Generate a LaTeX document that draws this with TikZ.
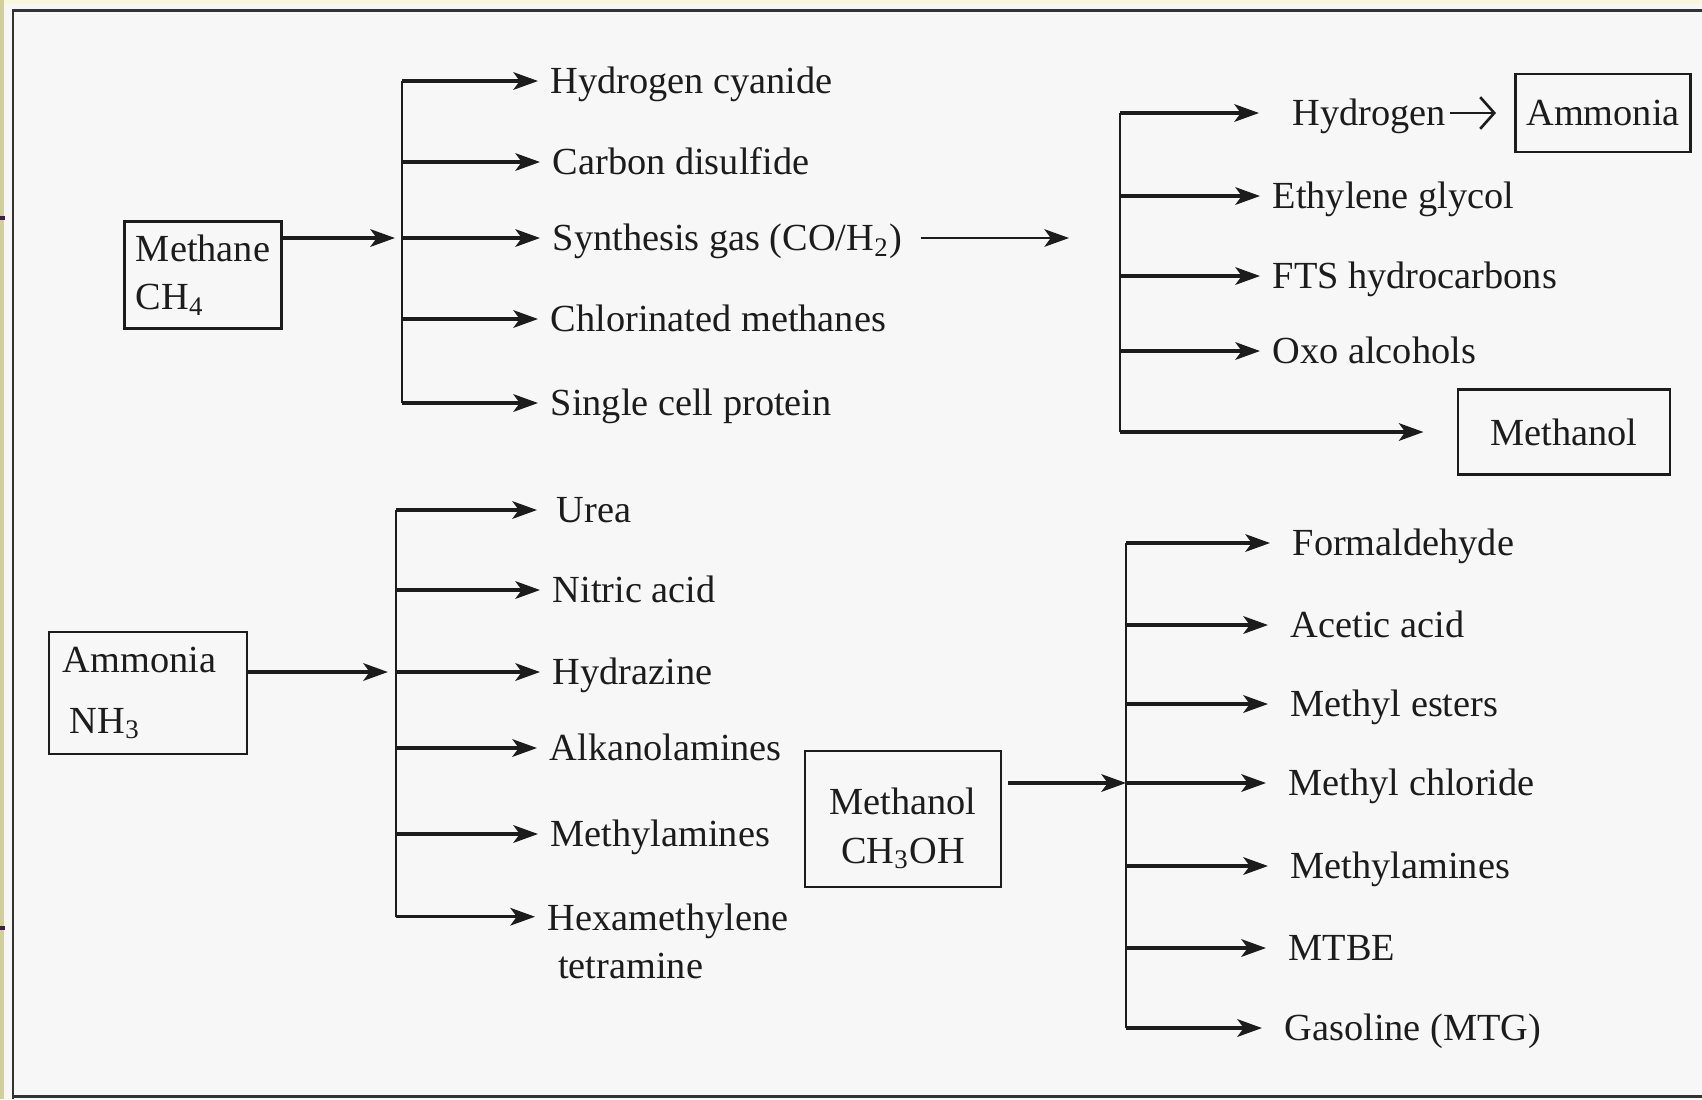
\documentclass[tikz,border=0pt]{standalone}
\usepackage{fontspec}
\setmainfont{Liberation Serif}
\usepackage{tikz}
\usepackage{xcolor}
\usetikzlibrary{arrows.meta}

\definecolor{slidebg}{HTML}{F9F8DC}
\definecolor{slideedge}{HTML}{D2CF9E}
\definecolor{paper}{HTML}{F7F7F7}
\definecolor{ink}{HTML}{1C1C1C}
\definecolor{framec}{HTML}{333333}
\definecolor{tickc}{HTML}{3B1F45}

\begin{document}
\begin{tikzpicture}[x=0.01cm, y=-0.01cm,
  every node/.style={font=\fontsize{10.9}{13.8}\selectfont, text=ink},
  prod/.style={anchor=west, inner sep=0pt, text height=7.2pt, text depth=0pt},
  chem/.style={draw=ink, line width=0.8pt, inner sep=2pt},
  branch/.style={draw=ink, line width=0.9pt, -{Stealth[length=7pt,width=5pt,inset=1.8pt]}, shorten >=0.12cm},
  trunk/.style={draw=ink, line width=0.6pt},
  barb/.style={draw=ink, line width=0.75pt, -{Straight Barb[length=4pt,width=9pt]}, shorten <=1pt, shorten >=0.18cm},
  frame/.style={draw=framec, line width=0.85pt}]
\useasboundingbox (0,0) rectangle (1702,1099);
\fill[slidebg] (0,0) rectangle (1702,1099);
\fill[slideedge] (0,0) rectangle (4,1099);
\fill[paper] (4,4) rectangle (1702,1099);
\fill[tickc] (0,216) rectangle (5,220);
\fill[tickc] (0,926) rectangle (5,930);
\draw[frame] (1702,10) -- (13,10) -- (13,1099);
\draw[frame] (13,1096) -- (1702,1096);

\node[chem, minimum width=1.57cm, minimum height=1.07cm, align=left] (ch4) at (203,275) {Methane\\CH\textsubscript{4}};
\coordinate (ta) at (402,0);
\node[prod] (hcn) at (550,81) {Hydrogen cyanide};
\node[prod] (cs2) at (552,162) {Carbon disulfide};
\node[prod] (syn) at (552,238) {Synthesis gas (CO/H\textsubscript{2})};
\node[prod] (chl) at (550,319) {Chlorinated methanes};
\node[prod] (scp) at (550,403) {Single cell protein};
\draw[trunk] (ta |- hcn) -- (ta |- scp);
\foreach \p in {hcn,cs2,syn,chl,scp} \draw[branch] (ta |- \p) -- (\p);
\draw[branch, shorten >=2pt] (ch4.east |- syn) -- (ta |- syn);
\coordinate (sgo) at (1069,0);
\draw[branch, line width=0.6pt, shorten <=5pt, shorten >=0pt] (syn) -- (sgo |- syn);

\coordinate (tb) at (1120,0);
\node[prod] (h2) at (1292,113) {Hydrogen};
\node[chem, minimum width=1.75cm, minimum height=0.78cm] (amm) at (1603,113) {Ammonia};
\node[prod] (eg) at (1272,196) {Ethylene glycol};
\node[prod] (fts) at (1272,276) {FTS hydrocarbons};
\node[prod] (oxo) at (1272,351) {Oxo alcohols};
\node[chem, minimum width=2.12cm, minimum height=0.85cm] (meoh) at (1564,432) {Methanol};
\draw[trunk] (tb |- h2) -- (tb |- meoh);
\foreach \p in {eg,fts,oxo} \draw[branch] (tb |- \p) -- (\p);
\draw[branch, shorten >=0.33cm] (tb |- h2) -- (h2);
\draw[branch, shorten >=0.33cm] (tb |- meoh) -- (meoh);
\draw[barb] (h2) -- (amm);

\node[chem, text width=1.70cm, inner xsep=0.14cm, minimum height=1.22cm, align=left] (nh3) at (148,693) {Ammonia\\[3.5pt]\hspace*{2pt}NH\textsubscript{3}};
\coordinate (tc) at (396,0);
\node[prod] (urea) at (556,510) {Urea};
\node[prod] (hno3) at (552,590) {Nitric acid};
\node[prod] (hyz) at (552,672) {Hydrazine};
\node[prod] (alk) at (549,748) {Alkanolamines};
\node[prod] (mam) at (550,834) {Methylamines};
\node[anchor=north west, inner sep=0pt, align=left] (hmt) at (547,903) {Hexamethylene\\\hspace*{3pt}tetramine};
\coordinate (hmtin) at ([yshift=-3.9pt]hmt.north west);
\draw[trunk] (tc |- urea) -- (tc |- hmtin);
\foreach \p in {hno3,hyz,alk,mam,hmtin} \draw[branch] (tc |- \p) -- (\p);
\draw[branch, shorten >=0.19cm] (tc |- urea) -- (urea);
\draw[branch, shorten >=2.3pt] (nh3.east |- hyz) -- (tc |- hyz);

\node[chem, minimum width=1.96cm, minimum height=1.36cm, align=center] (ch3oh) at (903,819) {\rule{0pt}{13pt}Methanol\\CH\textsubscript{3}OH};
\coordinate (td) at (1126,0);
\node[prod] (form) at (1292,543) {Formaldehyde};
\node[prod] (acet) at (1290,625) {Acetic acid};
\node[prod] (mest) at (1290,704) {Methyl esters};
\node[prod] (mcl) at (1288,783) {Methyl chloride};
\node[prod] (mam2) at (1290,866) {Methylamines};
\node[prod] (mtbe) at (1288,948) {MTBE};
\node[prod] (mtg) at (1284,1028) {Gasoline (MTG)};
\draw[trunk] (td |- form) -- (td |- mtg);
\foreach \p in {form,acet,mest,mcl,mam2,mtbe,mtg} \draw[branch, shorten >=0.22cm] (td |- \p) -- (\p);
\draw[branch, shorten <=0.06cm, shorten >=0pt] (ch3oh.east |- mcl) -- (td |- mcl);
\end{tikzpicture}
\end{document}
